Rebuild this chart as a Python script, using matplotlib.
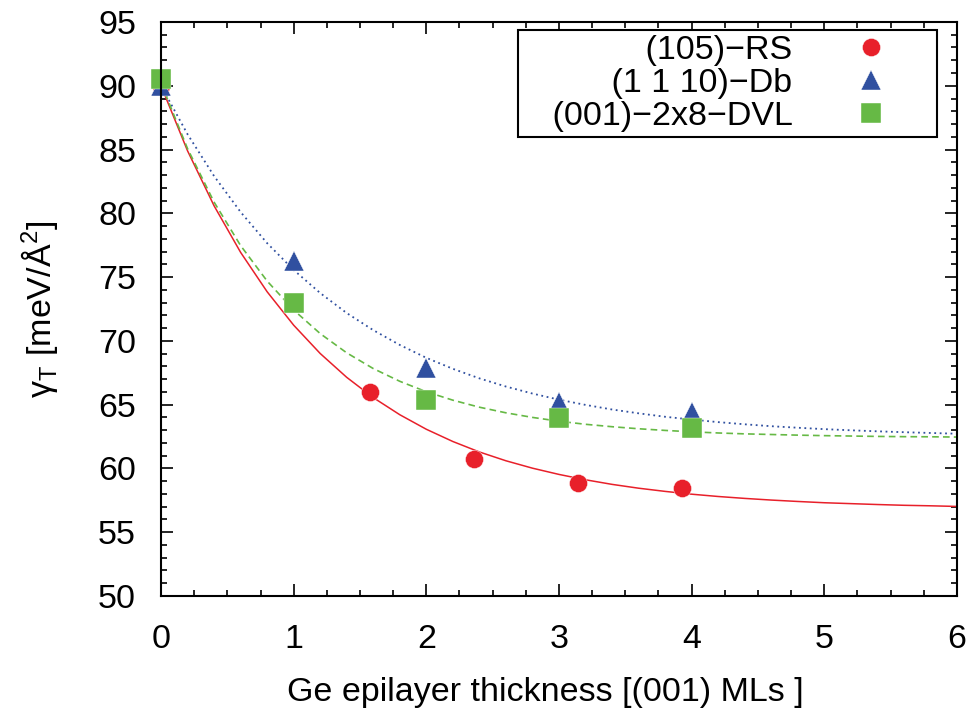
import numpy as np
import matplotlib
matplotlib.use("Agg")
import matplotlib.pyplot as plt
from matplotlib.ticker import MultipleLocator

plt.rcParams['font.family'] = ['Liberation Sans', 'DejaVu Sans']
plt.rcParams['mathtext.fontset'] = 'custom'
plt.rcParams['mathtext.rm'] = 'Liberation Sans'

# measured points
x_rs = [0.0, 1.575, 2.36, 3.14, 3.93]
y_rs = [90.0, 66.0, 60.7, 58.85, 58.5]

x_db = [0.0, 1.0, 2.0, 3.0, 4.0]
y_db = [90.0, 76.3, 67.9, 65.2, 64.4]

x_dvl = [0.0, 1.0, 2.0, 3.0, 4.0]
y_dvl = [90.5, 73.0, 65.4, 63.95, 63.2]

labels = ['(105)−RS', '(1 1 10)−Db', '(001)−2x8−DVL']

# fitted curves, every 0.2 ML
x_fit = [0.0, 0.2, 0.4, 0.6, 0.8, 1.0, 1.2, 1.4, 1.6, 1.8, 2.0,
         2.2, 2.4, 2.6, 2.8, 3.0, 3.2, 3.4, 3.6, 3.8, 4.0,
         4.2, 4.4, 4.6, 4.8, 5.0, 5.2, 5.4, 5.6, 5.8, 6.0]
fit_rs = [90.00, 84.90, 80.59, 76.94, 73.85, 71.23, 69.01, 67.14, 65.55, 64.21, 63.07,
          62.11, 61.29, 60.60, 60.02, 59.53, 59.11, 58.75, 58.45, 58.20, 57.98,
          57.80, 57.65, 57.52, 57.41, 57.31, 57.24, 57.17, 57.11, 57.07, 57.02]
fit_db = [90.00, 86.20, 82.92, 80.10, 77.66, 75.56, 73.75, 72.18, 70.84, 69.68, 68.67,
          67.81, 67.06, 66.42, 65.87, 65.39, 64.98, 64.62, 64.32, 64.05, 63.83,
          63.63, 63.46, 63.31, 63.19, 63.08, 62.99, 62.91, 62.84, 62.78, 62.72]
fit_dvl = [90.20, 85.07, 80.88, 77.47, 74.69, 72.42, 70.57, 69.06, 67.83, 66.83, 66.01,
           65.35, 64.80, 64.36, 64.00, 63.70, 63.46, 63.27, 63.11, 62.98, 62.87,
           62.78, 62.71, 62.66, 62.61, 62.57, 62.54, 62.51, 62.49, 62.48, 62.46]

red = '#e8202a'
blue = '#3050a0'
green = '#66b945'
fs = 24.5

fig = plt.figure(figsize=(9.77, 7.09), dpi=100)
ax = fig.add_axes([0.1648, 0.1594, 0.8147, 0.8096])

ax.plot(x_fit, fit_rs, color=red, lw=1.1, linestyle='-')
ax.plot(x_fit, fit_db, color=blue, lw=1.3, linestyle=(0, (1, 2)))
ax.plot(x_fit, fit_dvl, color=green, lw=1.2, linestyle=(0, (4, 2.5)))

# leading spaces widen the legend box on the left like the original
ax.plot(x_rs, y_rs, 'o', color=red, markersize=13, mec='white', mew=0.3, label='   ' + labels[0], clip_on=False)
ax.plot(x_db, y_db, '^', color=blue, markersize=14, mec='white', mew=0.3, label='   ' + labels[1], clip_on=False)
ax.plot(x_dvl, y_dvl, 's', color=green, markersize=14, mec='white', mew=0.3, label='   ' + labels[2], clip_on=False)

ax.set_xlim(0, 6)
ax.set_ylim(50, 95)
ax.xaxis.set_major_locator(MultipleLocator(1))
ax.xaxis.set_minor_locator(MultipleLocator(0.25))
ax.yaxis.set_major_locator(MultipleLocator(5))
ax.yaxis.set_minor_locator(MultipleLocator(1))
ax.tick_params(which='both', direction='in', top=True, right=True, width=1.2, labelsize=fs)
ax.tick_params(which='major', length=8.5)
ax.tick_params(which='minor', length=4.3)
ax.tick_params(axis='y', pad=18)
ax.tick_params(axis='x', pad=20)
for s in ax.spines.values():
    s.set_linewidth(1.5)

ax.set_xlabel('Ge epilayer thickness [(001) MLs ]', fontsize=fs)
ax.xaxis.set_label_coords(0.483, -0.142)
ax.set_ylabel('γ$_\\mathrm{T}$ [meV/Å$^2$]', fontsize=fs, labelpad=27)

leg = ax.legend(loc='upper right', bbox_to_anchor=(0.975, 0.986), borderaxespad=0,
                markerfirst=False, fontsize=fs, handlelength=3.6, handletextpad=0.5,
                labelspacing=0.05, borderpad=0.15, fancybox=False, framealpha=1,
                edgecolor='black')
leg.get_frame().set_linewidth(1.5)

fig.savefig('out.png', dpi=100)
